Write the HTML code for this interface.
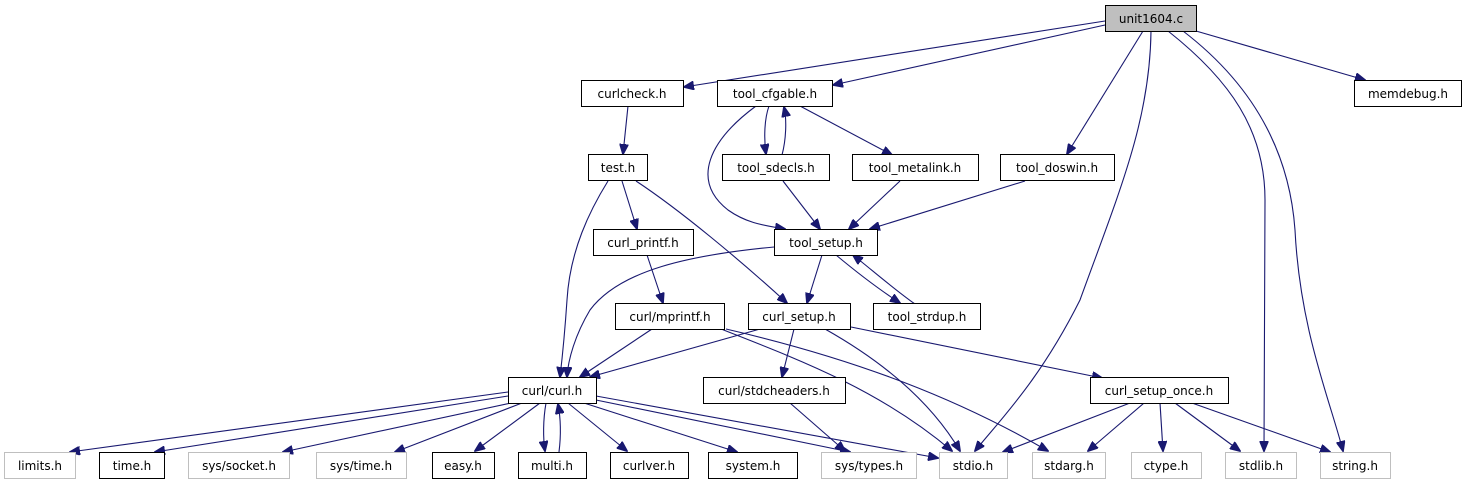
<!DOCTYPE html>
<html><head><meta charset="utf-8"><style>
html,body{margin:0;padding:0;background:#fff;}
svg{display:block;}
text{font-family:"DejaVu Sans","Liberation Sans",sans-serif;font-size:12px;fill:#000;text-anchor:middle;}
.b{fill:#fff;stroke:#000;stroke-width:1;}
.g{fill:#fff;stroke:#bfbfbf;stroke-width:1;}
.r{fill:#bfbfbf;stroke:#000;stroke-width:1;}
path{fill:none;stroke:#191970;stroke-width:1.1;}
</style></head><body>
<svg width="1468" height="485" viewBox="0 0 1468 485" xmlns="http://www.w3.org/2000/svg">
<defs><marker id="a" markerWidth="11" markerHeight="9" refX="10" refY="4.5" orient="auto" markerUnits="userSpaceOnUse"><polygon points="0,0 11,4.5 0,9" fill="#191970" stroke="#191970"/></marker></defs>
<g marker-end="url(#a)">
<path d="M1105,21 L684,87"/>
<path d="M1105,25 L833,85"/>
<path d="M1196,31 L1365,80"/>
<path d="M1143,31 L1067,154"/>
<path d="M1151,31 C1150,120 1120,190 1080,300 C1040,380 1000,420 975,451"/>
<path d="M1168,31 C1230,80 1265,130 1265,200 L1264,451"/>
<path d="M1183,31 C1260,90 1290,160 1295,230 C1300,330 1330,400 1343,451"/>
<path d="M628,106 L623,154"/>
<path d="M769,106 C764,120 764,140 766,154"/>
<path d="M782,155 C786,140 787,120 784,107"/>
<path d="M800,106 L892,155"/>
<path d="M756,106 C710,140 690,180 728,210 C745,222 760,225 785,229"/>
<path d="M783,181 L820,229"/>
<path d="M900,181 L849,229"/>
<path d="M1025,181 L870,229"/>
<path d="M622,181 L637,229"/>
<path d="M608,181 C590,210 570,250 567,300 C565,330 562,360 560,377"/>
<path d="M636,181 C680,210 740,260 787,303"/>
<path d="M647,255 L663,303"/>
<path d="M822,255 L807,303"/>
<path d="M836,255 C860,275 880,290 900,303"/>
<path d="M915,304 C895,290 872,270 853,255"/>
<path d="M774,247 C690,255 620,270 590,310 C575,335 568,360 567,377"/>
<path d="M652,329 L580,377"/>
<path d="M721,329 C800,360 880,390 952,451"/>
<path d="M726,329 C860,360 960,400 1048,451"/>
<path d="M760,329 L590,377"/>
<path d="M794,329 L782,377"/>
<path d="M825,329 C880,360 930,400 960,451"/>
<path d="M851,327 L1102,378"/>
<path d="M790,403 L845,451"/>
<path d="M1130,403 L1003,452"/>
<path d="M1144,403 L1088,451"/>
<path d="M1160,403 L1163,451"/>
<path d="M1175,403 L1240,451"/>
<path d="M1192,403 L1330,452"/>
<path d="M508,392 L70,452"/>
<path d="M508,396 L155,452"/>
<path d="M511,403 L283,452"/>
<path d="M522,403 L395,452"/>
<path d="M540,403 L475,451"/>
<path d="M546,403 C543,420 543,438 545,451"/>
<path d="M559,452 C561,436 561,420 558,404"/>
<path d="M568,403 L627,451"/>
<path d="M584,403 L737,452"/>
<path d="M596,400 L850,452"/>
<path d="M596,396 L938,458"/>
</g>
<rect class="r" x="1105.5" y="5.5" width="91" height="26"/><text x="1151" y="23">unit1604.c</text>
<rect class="b" x="581.5" y="80.5" width="102" height="26"/><text x="632" y="98">curlcheck.h</text>
<rect class="b" x="717.5" y="80.5" width="115" height="26"/><text x="775" y="98">tool_cfgable.h</text>
<rect class="b" x="1354.5" y="80.5" width="107" height="26"/><text x="1408" y="98">memdebug.h</text>
<rect class="b" x="588.5" y="154.5" width="59" height="26"/><text x="618" y="172">test.h</text>
<rect class="b" x="722.5" y="154.5" width="107" height="26"/><text x="776" y="172">tool_sdecls.h</text>
<rect class="b" x="852.5" y="154.5" width="126" height="26"/><text x="915" y="172">tool_metalink.h</text>
<rect class="b" x="1000.5" y="154.5" width="114" height="26"/><text x="1057" y="172">tool_doswin.h</text>
<rect class="b" x="593.5" y="229.5" width="100" height="26"/><text x="643" y="247">curl_printf.h</text>
<rect class="b" x="774.5" y="229.5" width="103" height="26"/><text x="826" y="247">tool_setup.h</text>
<rect class="b" x="615.5" y="303.5" width="109" height="26"/><text x="670" y="321">curl/mprintf.h</text>
<rect class="b" x="748.5" y="303.5" width="102" height="26"/><text x="799" y="321">curl_setup.h</text>
<rect class="b" x="873.5" y="303.5" width="107" height="26"/><text x="927" y="321">tool_strdup.h</text>
<rect class="b" x="508.5" y="377.5" width="88" height="26"/><text x="552" y="395">curl/curl.h</text>
<rect class="b" x="703.5" y="377.5" width="142" height="26"/><text x="774" y="395">curl/stdcheaders.h</text>
<rect class="b" x="1090.5" y="377.5" width="138" height="26"/><text x="1159" y="395">curl_setup_once.h</text>
<rect class="g" x="4.5" y="452.5" width="71" height="26"/><text x="40" y="470" style="fill:#000">limits.h</text>
<rect class="b" x="99.5" y="452.5" width="65" height="26"/><text x="132" y="470">time.h</text>
<rect class="g" x="188.5" y="452.5" width="101" height="26"/><text x="239" y="470">sys/socket.h</text>
<rect class="g" x="316.5" y="452.5" width="90" height="26"/><text x="361" y="470">sys/time.h</text>
<rect class="b" x="432.5" y="452.5" width="62" height="26"/><text x="463" y="470">easy.h</text>
<rect class="b" x="518.5" y="452.5" width="68" height="26"/><text x="552" y="470">multi.h</text>
<rect class="b" x="610.5" y="452.5" width="78" height="26"/><text x="649" y="470">curlver.h</text>
<rect class="b" x="708.5" y="452.5" width="89" height="26"/><text x="753" y="470">system.h</text>
<rect class="g" x="821.5" y="452.5" width="95" height="26"/><text x="869" y="470">sys/types.h</text>
<rect class="g" x="939.5" y="452.5" width="68" height="26"/><text x="973" y="470">stdio.h</text>
<rect class="g" x="1032.5" y="452.5" width="73" height="26"/><text x="1069" y="470">stdarg.h</text>
<rect class="g" x="1131.5" y="452.5" width="70" height="26"/><text x="1166" y="470">ctype.h</text>
<rect class="g" x="1225.5" y="452.5" width="71" height="26"/><text x="1261" y="470">stdlib.h</text>
<rect class="g" x="1320.5" y="452.5" width="70" height="26"/><text x="1355" y="470">string.h</text>
</svg>
</body></html>
